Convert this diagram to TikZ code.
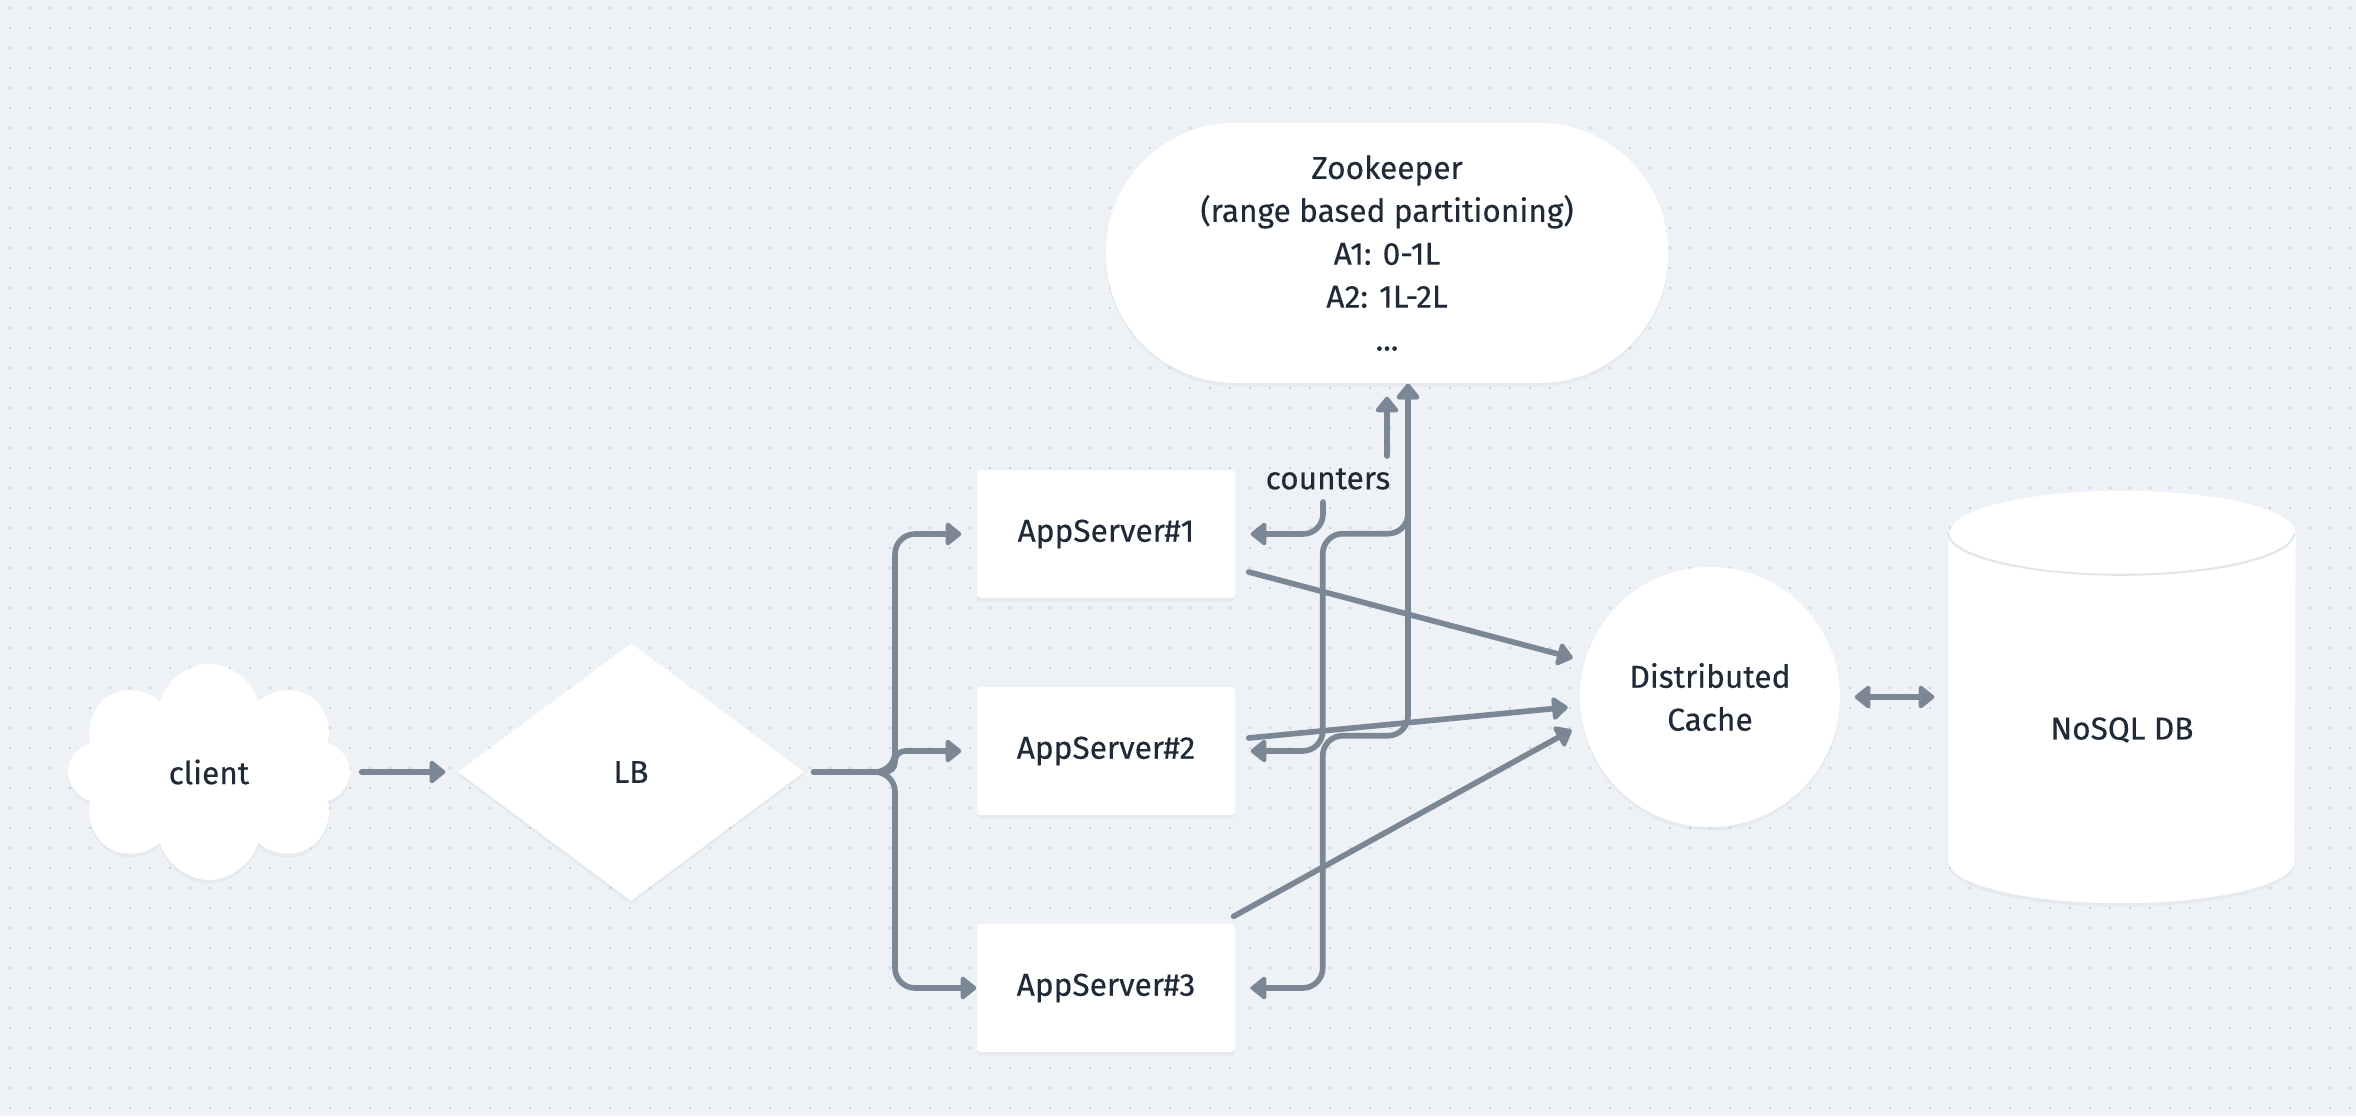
\documentclass[tikz,border=0pt]{standalone}
\usepackage{fontspec}
\setmainfont{Fira Sans}[UprightFeatures={FakeBold=0.35}]
\usetikzlibrary{shapes.geometric,shapes.symbols,arrows.meta,shadows}

\definecolor{paper}{HTML}{EEF2F6}
\definecolor{griddot}{HTML}{C8CFDA}
\definecolor{wiregray}{HTML}{7B8794}
\definecolor{ink}{HTML}{1F2937}
\definecolor{rimgray}{HTML}{E2E6EB}

\begin{document}
\begin{tikzpicture}[
    every node/.style={font=\fontsize{9}{12.2}\selectfont,text=ink},
    box/.style={fill=white,inner sep=0pt,
      drop shadow={opacity=0.07,shadow xshift=0pt,shadow yshift=-1pt}},
    server/.style={box,rectangle,rounded corners=1pt,
      minimum width=2.58cm,minimum height=1.28cm},
    wire/.style={draw=wiregray,line width=1.6pt,line cap=round,rounded corners=0.2cm},
    arr/.style={wire,-{Triangle[length=0.17cm,width=0.26cm,round]}},
    dbl/.style={wire,{Triangle[length=0.17cm,width=0.26cm,round]}-{Triangle[length=0.17cm,width=0.26cm,round]}}]
    % Rows and columns
    \def\yrow{3.44}
    \def\xfork{8.95}
    \def\xserv{11.06}

    % Dotted paper
    \useasboundingbox (0,0) rectangle (23.56,11.16);
    \fill[paper] (0,0) rectangle (23.56,11.16);
    \foreach \x in {0,...,117} {
      \foreach \y in {0,...,55} {
        \fill[griddot] (\x*0.2+0.1,\y*0.2+0.08) circle (0.014);
      }
    }

    % Client and load balancer
    \node[box,cloud,cloud puffs=8,aspect=1.3,
      minimum width=2.82cm,minimum height=2.16cm] (client) at (2.09,\yrow) {client};
    \node[box,diamond,minimum width=3.46cm,minimum height=2.58cm] (lb) at (6.31,\yrow) {LB};

    % App servers
    \foreach \i/\y in {1/5.82,2/3.65,3/1.28} {
      \node[server] (as\i) at (\xserv,\y) {AppServer\#\i};
    }

    % Zookeeper, cache, counters
    \node[box,rounded corners=1.29cm,minimum width=5.62cm,minimum height=2.60cm,
      align=center] (zk) at (13.87,8.63)
      {Zookeeper\\(range based partitioning)\\A1: 0-1L\\A2: 1L-2L\\...};
    \node[box,circle,minimum size=2.6cm,align=center] (cache) at (17.10,4.19)
      {Distributed\\Cache};
    \node (counters) at (13.28,6.37) {counters};

    % NoSQL cylinder
    \node[minimum width=3.46cm,minimum height=4.11cm] (db) at (21.22,4.19) {};
    \path[box] ([yshift=-0.42cm]db.north west) -- ([yshift=0.42cm]db.south west)
      arc[start angle=180,end angle=360,x radius=1.73cm,y radius=0.42cm]
      -- ([yshift=-0.42cm]db.north east)
      arc[start angle=0,end angle=180,x radius=1.73cm,y radius=0.42cm] -- cycle;
    \draw[rimgray,line width=0.6pt] ([yshift=-0.42cm]db.north west)
      arc[start angle=180,end angle=360,x radius=1.73cm,y radius=0.42cm];
    \node (dbname) at ([yshift=-0.33cm]db.center) {NoSQL DB};

    % Client to LB
    \draw[arr,shorten <=0.11cm,shorten >=0.12cm] (client.east) -- (lb.west);

    % LB fan-out
    \coordinate (fork) at (\xfork,\yrow);
    \draw[arr,shorten <=0.09cm,shorten >=0.15cm] (lb.east) -- (fork) |- (as1.west);
    \draw[arr,rounded corners=0.1cm,shorten <=0.09cm,shorten >=0.15cm]
      (lb.east) -- (fork) |- (as2.west);
    \draw[arr,shorten <=0.09cm] (lb.east) -- (fork) |- (as3.west);

    % App servers to cache
    \draw[arr,shorten >=0.12cm] ([shift={(0.13,-0.38)}]as1.east) -- (cache.164);
    \draw[arr,shorten >=0.12cm] ([shift={(0.13,0.13)}]as2.east) -- (cache.184);
    \draw[arr,shorten >=0.12cm] ([shift={(-0.02,0.07)}]as3.north east) -- (cache.192);

    % Cache to DB
    \draw[dbl,shorten <=0.14cm,shorten >=0.14cm] (cache.east) -- (db.west);

    % Zookeeper links
    \draw[arr,shorten >=0.15cm] ([xshift=-0.05cm]counters.south) |- (as1.east);
    \draw[arr,shorten >=0.13cm] (zk.south |- counters.north) -- (zk.south);
    \draw[dbl,shorten >=0.15cm] ([xshift=0.21cm]zk.south) -- ++(0,-1.5)
      -| ([xshift=0.87cm]as2.east) -- (as2.east);
    \draw[dbl,shorten >=0.15cm] ([xshift=0.21cm]zk.south) -- ++(0,-3.52)
      -| ([xshift=0.87cm]as3.east) -- (as3.east);

  \end{tikzpicture}
\end{document}
